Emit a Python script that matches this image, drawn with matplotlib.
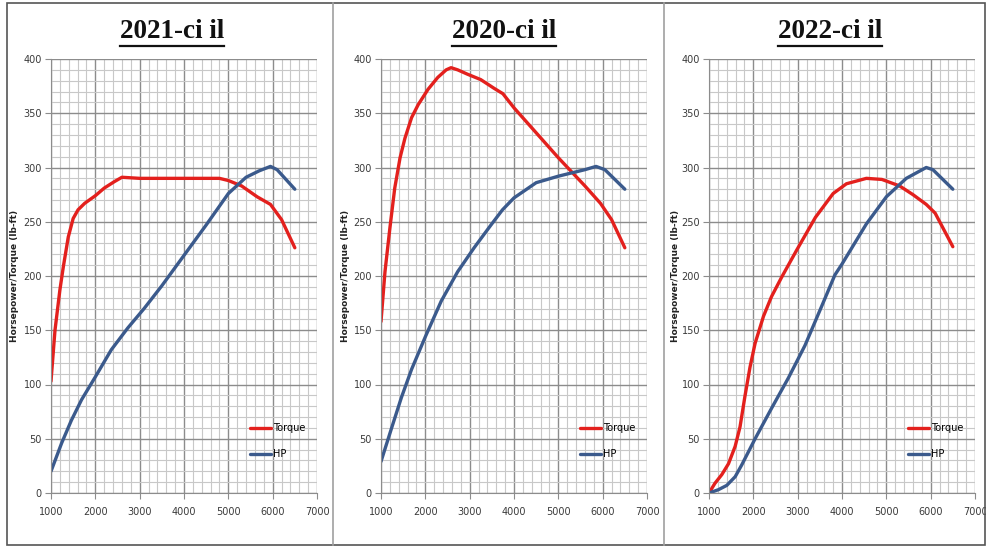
import matplotlib
matplotlib.use("Agg")
import matplotlib.pyplot as plt
from matplotlib.ticker import MultipleLocator
from matplotlib.lines import Line2D
from matplotlib.patches import Rectangle

# ---------------- data ----------------
titles = ["2021-ci il", "2020-ci il", "2022-ci il"]
series_names = ["Torque", "HP"]

rpm_torque_2021 = [1000, 1090, 1200, 1280, 1390, 1500, 1610, 1760, 2000, 2200, 2430, 2600, 3000, 3500, 4000, 4500, 4800, 5000, 5300, 5650, 5950, 6200, 6500]
torque_2021 = [103, 150, 187, 209, 236, 253, 261, 267, 274, 281, 287, 291, 290, 290, 290, 290, 290, 288, 283, 273, 266, 252, 226]
rpm_hp_2021 = [1000, 1240, 1460, 1690, 2000, 2360, 2730, 3100, 3500, 4000, 4500, 5000, 5400, 5700, 5950, 6100, 6500]
hp_2021 = [20, 46, 67, 86, 107, 132, 152, 170, 191, 219, 247, 276, 291, 297, 301, 298, 280]

rpm_torque_2020 = [1000, 1090, 1200, 1310, 1430, 1540, 1690, 1840, 2060, 2280, 2470, 2580, 2730, 2950, 3250, 3550, 3750, 4000, 4500, 5000, 5300, 5600, 5950, 6200, 6500]
torque_2020 = [158, 204, 244, 281, 309, 327, 346, 358, 372, 383, 390, 392, 390, 386, 381, 373, 368, 355, 332, 309, 296, 283, 267, 252, 226]
rpm_hp_2020 = [1000, 1240, 1460, 1690, 2000, 2360, 2730, 3100, 3480, 3740, 4000, 4500, 5000, 5600, 5850, 6050, 6500]
hp_2020 = [29, 60, 88, 114, 144, 177, 204, 226, 247, 261, 272, 286, 292, 298, 301, 298, 280]

rpm_torque_2022 = [1000, 1135, 1290, 1440, 1590, 1700, 1810, 1925, 2040, 2230, 2410, 2640, 2980, 3400, 3800, 4100, 4550, 4900, 5300, 5600, 5900, 6100, 6500]
torque_2022 = [0, 9, 17, 27, 43, 61, 89, 116, 138, 163, 181, 199, 224, 254, 276, 285, 290, 289, 283, 275, 266, 258, 227]
rpm_hp_2022 = [1000, 1210, 1400, 1590, 1740, 2040, 2410, 2790, 3165, 3540, 3840, 4000, 4550, 5000, 5450, 5900, 6050, 6500]
hp_2022 = [0, 3, 7, 15, 26, 50, 78, 106, 136, 172, 201, 211, 248, 273, 290, 300, 298, 280]

panels = [
    (rpm_torque_2021, torque_2021, rpm_hp_2021, hp_2021),
    (rpm_torque_2020, torque_2020, rpm_hp_2020, hp_2020),
    (rpm_torque_2022, torque_2022, rpm_hp_2022, hp_2022),
]

x_ticks = [1000, 2000, 3000, 4000, 5000, 6000, 7000]
y_ticks = [0, 50, 100, 150, 200, 250, 300, 350, 400]

# ---------------- style ----------------
W, H = 986, 547
red = "#e3201d"
blue = "#3b5a8c"

fig = plt.figure(figsize=(W / 100, H / 100), dpi=100)
fig.patch.set_facecolor("white")

def fx(px):
    return px / W

def fy(py):
    return 1 - py / H

# panel frames
fig.add_artist(Rectangle((fx(7), fy(545)), fx(985) - fx(7), fy(3) - fy(545),
                         transform=fig.transFigure, fill=False, edgecolor="#555555", lw=1.2))
for sx in [333, 664]:
    fig.add_artist(Line2D([fx(sx), fx(sx)], [fy(545), fy(3)], transform=fig.transFigure,
                          color="#a0a0a0", lw=1.2))

ax_lefts = [51, 381, 709]
ax_width = 266
ax_top, ax_bottom = 59, 493
title_centers = [172, 504, 830]
ylabel_x = [15, 346, 676]

title_texts = []
for i, (rt, tq, rh, hp) in enumerate(panels):
    ax = fig.add_axes([fx(ax_lefts[i]), fy(ax_bottom), ax_width / W, (ax_bottom - ax_top) / H])
    ax.set_xlim(1000, 7000)
    ax.set_ylim(0, 400)
    ax.xaxis.set_minor_locator(MultipleLocator(200))
    ax.yaxis.set_minor_locator(MultipleLocator(10))
    ax.set_xticks(x_ticks)
    ax.set_yticks(y_ticks)
    ax.grid(which="minor", color="#c8c8c8", lw=0.8)
    ax.grid(which="major", color="#8c8c8c", lw=1.0)
    ax.set_axisbelow(True)
    for s in ["top", "right"]:
        ax.spines[s].set_visible(False)
    for s in ["left", "bottom"]:
        ax.spines[s].set_color("#8c8c8c")
    ax.tick_params(which="major", direction="out", length=4, color="#8c8c8c",
                   labelsize=7, labelcolor="#3a3a3a", pad=2.5)
    ax.tick_params(axis="x", which="major", pad=6)
    ax.tick_params(which="minor", length=0)
    ax.plot(rt, tq, color=red, lw=2.4, label=series_names[0], solid_capstyle="round")
    ax.plot(rh, hp, color=blue, lw=2.4, label=series_names[1], solid_capstyle="round")
    ax.legend(loc="lower left", bbox_to_anchor=(0.73, 0.066), frameon=False, fontsize=7,
              handlelength=2.2, handletextpad=0.2, labelspacing=1.65, borderpad=0)
    fig.text(fx(ylabel_x[i]), fy((ax_top + ax_bottom) / 2), "Horsepower/Torque (lb-ft)",
             rotation=90, ha="center", va="center", fontsize=6.5, fontweight="bold",
             color="#222222")
    t = fig.text(fx(title_centers[i]), fy(38), titles[i], ha="center", va="baseline",
                 fontsize=19.5, fontweight="bold", family="Liberation Serif", color="#111111")
    title_texts.append(t)

fig.canvas.draw()
renderer = fig.canvas.get_renderer()
for t in title_texts:
    bb = t.get_window_extent(renderer)
    yline = bb.y0 - 1.5
    fig.add_artist(Line2D([bb.x0 / fig.bbox.width, bb.x1 / fig.bbox.width],
                          [yline / fig.bbox.height, yline / fig.bbox.height],
                          transform=fig.transFigure, color="#111111", lw=1.6))

fig.savefig("out.png", dpi=100)
